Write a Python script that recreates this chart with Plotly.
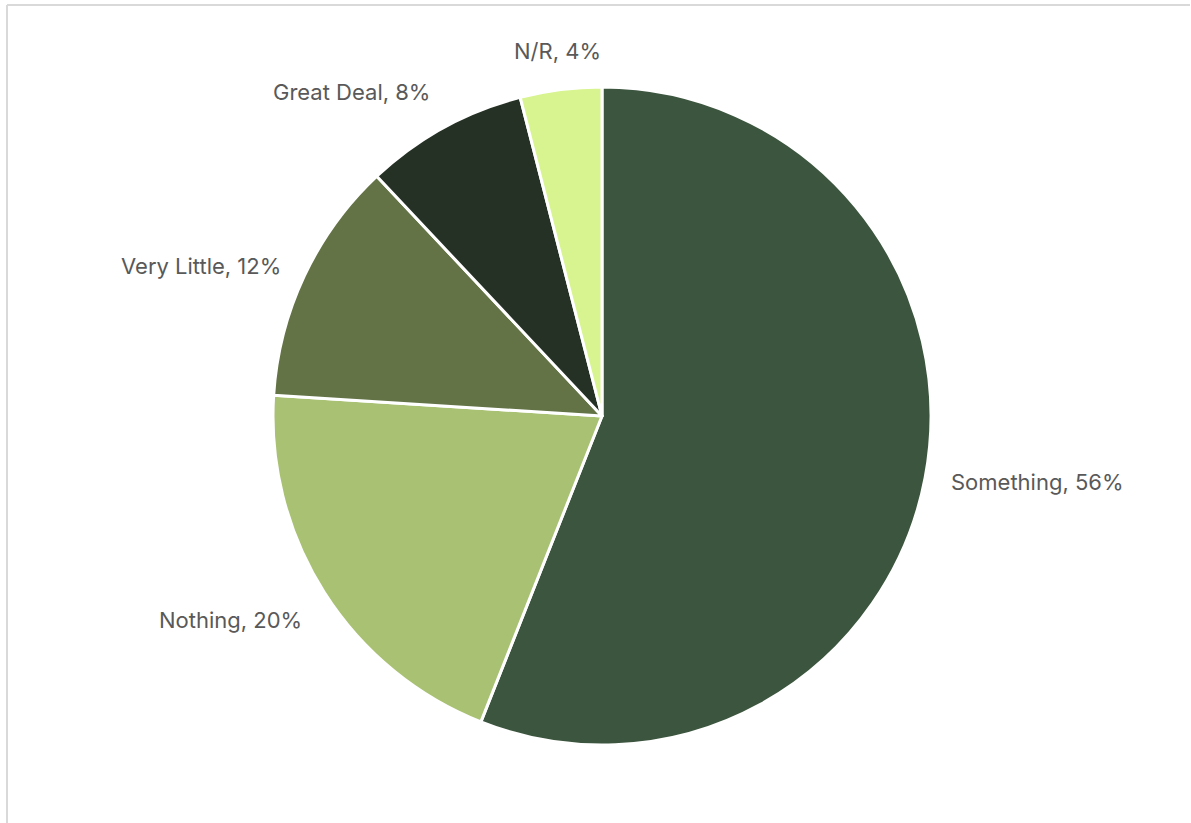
import math
import plotly.graph_objects as go

# Survey responses, share of respondents (%)
categories = ["Something", "Nothing", "Very Little", "Great Deal", "N/R"]
shares = [56, 20, 12, 8, 4]
slice_colors = ["#3C553E", "#A9C173", "#637346", "#263125", "#D7F490"]

W, H = 1191, 823
cx, cy, r = 602, 416, 329  # pie centre and radius in pixels
label_gap = 24             # distance of data labels beyond the rim

fig = go.Figure(
    go.Pie(
        labels=categories,
        values=shares,
        sort=False,
        direction="clockwise",
        rotation=0,
        marker=dict(colors=slice_colors, line=dict(color="white", width=3)),
        textinfo="none",
        showlegend=False,
        hoverinfo="label+percent",
        domain=dict(
            x=[(cx - r) / W, (cx + r) / W],
            y=[(H - cy - r) / H, (H - cy + r) / H],
        ),
    )
)

# Data labels placed just outside each slice, at its mid angle
total = sum(shares)
cum = 0
for name, val in zip(categories, shares):
    mid = 2 * math.pi * (cum + val / 2) / total  # clockwise from 12 o'clock
    cum += val
    s, c = math.sin(mid), math.cos(mid)
    px = cx + (r + label_gap) * s
    py = cy - (r + label_gap) * c
    xanchor = "left" if s > 0.3 else ("right" if s < -0.3 else "center")
    yanchor = "bottom" if c > 0.5 else ("top" if c < -0.5 else "middle")
    fig.add_annotation(
        x=px / W, y=1 - py / H, xref="paper", yref="paper",
        text=f"{name}, {round(100 * val / total)}%",
        showarrow=False, xanchor=xanchor, yanchor=yanchor,
        font=dict(family="Inter, Lato, sans-serif", size=22, color="#595959"),
    )

# Light frame along the top and left edges of the chart area
frame = dict(color="#D9D9D9", width=2)
fig.add_shape(type="line", xref="paper", yref="paper",
              x0=7 / W, x1=1190 / W, y0=1 - 5 / H, y1=1 - 5 / H, line=frame)
fig.add_shape(type="line", xref="paper", yref="paper",
              x0=7 / W, x1=7 / W, y0=1 - 5 / H, y1=0, line=frame)

fig.update_layout(
    width=W,
    height=H,
    margin=dict(l=0, r=0, t=0, b=0),
    paper_bgcolor="white",
    plot_bgcolor="white",
)

fig.write_html("out.html")
